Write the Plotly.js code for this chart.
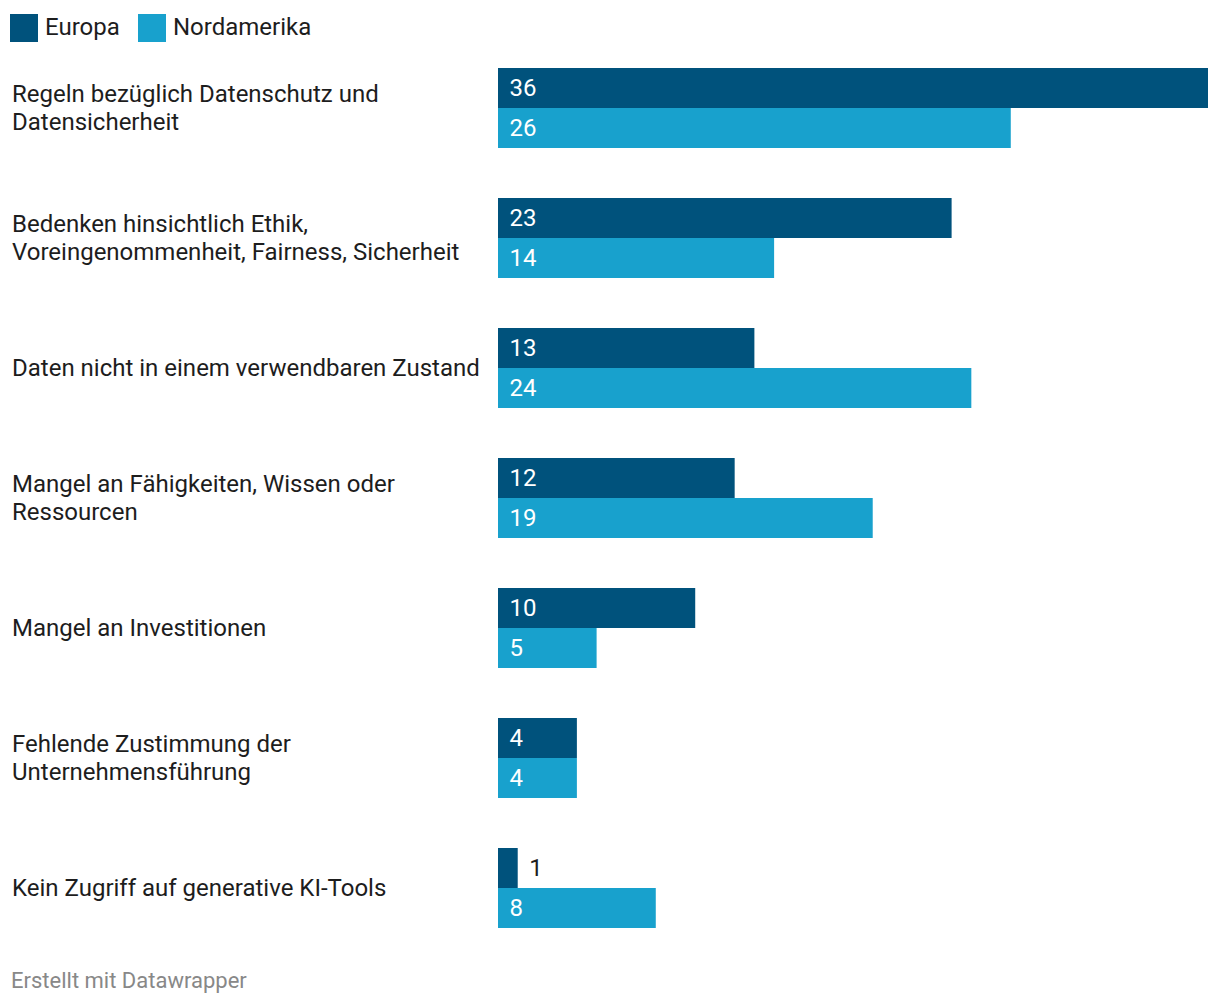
<!DOCTYPE html>
<html>
<head>
<meta charset="utf-8">
<script src="https://cdn.plot.ly/plotly-3.0.1.min.js"></script>
<style>html,body{margin:0;padding:0;background:#fff;}#chart{width:1220px;height:1006px;}</style>
</head>
<body>
<div id="chart"></div>
<script>
const categories = [
  "Regeln bezüglich Datenschutz und<br>Datensicherheit",
  "Bedenken hinsichtlich Ethik,<br>Voreingenommenheit, Fairness, Sicherheit",
  "Daten nicht in einem verwendbaren Zustand",
  "Mangel an Fähigkeiten, Wissen oder<br>Ressourcen",
  "Mangel an Investitionen",
  "Fehlende Zustimmung der<br>Unternehmensführung",
  "Kein Zugriff auf generative KI-Tools"
];
const catKeys = ["c1","c2","c3","c4","c5","c6","c7"];
const europa = [36, 23, 13, 12, 10, 4, 1];
const nordamerika = [26, 14, 24, 19, 5, 4, 8];
const seriesNames = ["Europa", "Nordamerika"];
const colors = ["#00527c", "#18a1cd"];

const W = 1220, H = 1006, L = 498, R = 12, T = 43, B = 53;
const pw = W - L - R, ph = H - T - B;
const px = x => (x - L) / pw;
const py = y => 1 - (y - T) / ph;
const FS = 24;

function trace(vals, name, color) {
  return {
    type: "bar", orientation: "h", name: name,
    y: catKeys, x: vals,
    marker: {color: color, line: {width: 0}},
    text: vals.map(v => "\u00a0\u200a" + v),
    textposition: "auto",
    insidetextanchor: "start",
    insidetextfont: {color: "#ffffff", size: FS, family: "Roboto"},
    outsidetextfont: {color: "#1d1d1d", size: FS, family: "Roboto"},
    constraintext: "none",
    cliponaxis: false,
    hoverinfo: "none"
  };
}

const annotations = [];
categories.forEach((c, i) => {
  const lines = c.split("<br>");
  const n = lines.length;
  lines.forEach((ln, j) => {
    annotations.push({
      xref: "paper", yref: "y", x: px(10), y: catKeys[i],
      yshift: -((j - (n - 1) / 2) * 28),
      text: ln, showarrow: false, xanchor: "left", align: "left", yanchor: "middle",
      font: {family: "Roboto", size: FS, color: "#1d1d1d"}
    });
  });
});

const shapes = [];
const legendX = [[10, 38, 43], [138, 166, 171]];
seriesNames.forEach((n, i) => {
  shapes.push({type: "rect", xref: "paper", yref: "paper",
    x0: px(legendX[i][0]), x1: px(legendX[i][1]), y0: py(42), y1: py(14),
    fillcolor: colors[i], line: {width: 0}});
  annotations.push({xref: "paper", yref: "paper", x: px(legendX[i][2]), y: py(27),
    text: n, showarrow: false, xanchor: "left", yanchor: "middle",
    font: {family: "Roboto", size: FS, color: "#1d1d1d"}});
});
annotations.push({xref: "paper", yref: "paper", x: px(9), y: py(981),
  text: "Erstellt mit Datawrapper", showarrow: false, xanchor: "left", yanchor: "middle",
  font: {family: "Roboto", size: 22, color: "#888888"}});

const layout = {
  width: W, height: H,
  margin: {l: L, r: R, t: T, b: B, pad: 0},
  paper_bgcolor: "#fff", plot_bgcolor: "#fff",
  barmode: "group", bargap: 50/130, bargroupgap: 0,
  showlegend: false,
  xaxis: {range: [0, 36], visible: false, fixedrange: true},
  yaxis: {autorange: "reversed", showticklabels: false, showgrid: false, zeroline: false, showline: false, ticks: "", fixedrange: true},
  annotations: annotations, shapes: shapes,
  font: {family: "Roboto"}
};

Plotly.newPlot("chart", [trace(europa, seriesNames[0], colors[0]), trace(nordamerika, seriesNames[1], colors[1])], layout, {displayModeBar: false, staticPlot: true});
</script>
</body>
</html>
